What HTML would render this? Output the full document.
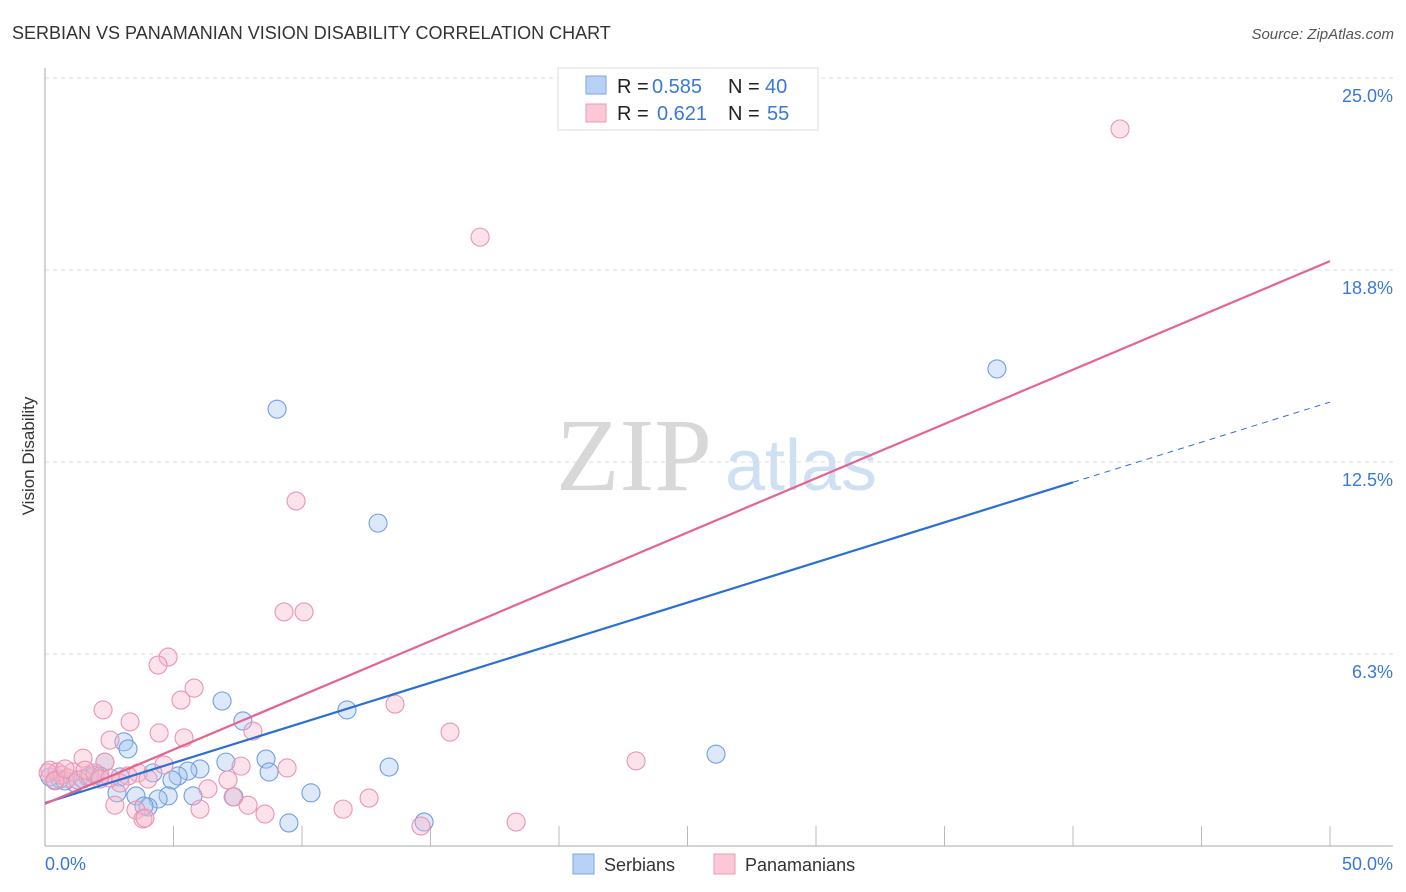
<!DOCTYPE html>
<html><head><meta charset="utf-8"><style>
body{margin:0;background:#fff;font-family:"Liberation Sans",sans-serif;}
svg{display:block}
</style></head><body>
<svg id="c" width="1406" height="892">
<text x="12" y="39" font-size="18" fill="#333">SERBIAN VS PANAMANIAN VISION DISABILITY CORRELATION CHART</text>
<text x="1394" y="39" font-size="15" fill="#555" font-style="italic" text-anchor="end">Source: ZipAtlas.com</text>
<text x="34" y="456" font-size="17" fill="#333" transform="rotate(-90 34 456)" text-anchor="middle">Vision Disability</text>
<g>
<text x="634" y="490" font-size="104" font-family="Liberation Serif,serif" fill="#d8d8d8" text-anchor="middle">ZIP</text>
<text x="801" y="490" font-size="72" fill="#cfe0f5" text-anchor="middle">atlas</text>
</g>
<g id="grid"></g><g id="axes"></g><g id="pts"></g><g id="lines"></g>
<g>
<rect x="558" y="68" width="260" height="62" fill="#fff" stroke="#ddd"/>
<rect x="586" y="76" width="20" height="18" fill="#b8d2f5" stroke="#7aa6e6"/>
<rect x="586" y="104" width="20" height="18" fill="#fac8d6" stroke="#ec9ab3"/>
<text y="93" font-size="20"><tspan x="617" fill="#222">R = </tspan><tspan x="652" fill="#3a78d8">0.585</tspan><tspan x="728" fill="#222">N = </tspan><tspan x="765" fill="#3a78d8">40</tspan></text>
<text y="120" font-size="20"><tspan x="617" fill="#222">R = </tspan><tspan x="657" fill="#3a78d8">0.621</tspan><tspan x="728" fill="#222">N = </tspan><tspan x="767" fill="#3a78d8">55</tspan></text>
</g>
<g>
<rect x="573" y="854" width="21" height="20" fill="#b8d2f5" stroke="#7aa6e6"/>
<text x="604" y="871" font-size="18" fill="#333">Serbians</text>
<rect x="714" y="854" width="21" height="20" fill="#fac8d6" stroke="#ec9ab3"/>
<text x="745" y="871" font-size="18" fill="#333">Panamanians</text>
</g>
</svg>
<script>
const yTicks=[6.25,12.5,18.75,25];
const yTickLabels=["6.3%","12.5%","18.8%","25.0%"];
const xTickLabels=["0.0%","50.0%"];
const serbX=[9.03,12.96,37.04,6.89,7.70,11.75,26.11,3.07,3.23,2.33,7.04,8.60,8.72,13.39,6.03,5.56,5.18,4.20,4.94,2.92,10.35,5.76,4.79,3.54,4.40,2.80,4.01,3.85,7.35,9.49,14.75,0.58,1.17,1.67,0.19,0.39,0.78,1.95,1.48,2.14];
const serbY=[14.22,10.51,15.53,4.72,4.07,4.43,2.99,3.39,3.16,2.73,2.73,2.83,2.41,2.57,2.51,2.44,2.28,2.38,2.15,2.25,1.73,1.63,1.63,1.63,1.53,1.73,1.27,1.30,1.60,0.75,0.78,2.18,2.05,2.25,2.25,2.15,2.12,2.31,2.18,2.28];
const panX=[41.83,16.93,9.77,9.30,10.08,4.79,4.40,5.80,5.29,2.26,3.31,4.44,2.53,5.41,8.09,13.62,15.76,23.00,1.48,2.33,7.63,9.42,7.12,6.34,7.32,4.63,3.62,3.23,4.01,2.92,2.72,3.54,3.81,7.90,8.56,6.03,11.60,12.61,14.63,18.33,0.19,0.47,0.66,0.89,1.09,1.28,1.75,1.95,2.14,0.12,2.53,0.39,0.78,1.56,3.89];
const panY=[23.34,19.82,11.23,7.62,7.62,6.15,5.89,5.14,4.75,4.43,4.04,3.68,3.45,3.52,3.74,4.62,3.71,2.77,2.86,2.73,2.60,2.54,2.15,1.86,1.60,2.64,2.38,2.28,2.18,2.05,1.33,1.17,0.88,1.33,1.04,1.20,1.20,1.56,0.65,0.78,2.47,2.41,2.31,2.21,2.41,2.15,2.28,2.38,2.18,2.38,2.21,2.12,2.51,2.47,0.91];
const serbLine=[1.40,14.45], serbSolidEnd=40;
const panLine=[1.37,19.04];
const X0=45,X1=1330,Y0=846;
const sx=v=>X0+(X1-X0)*v/50;
const sy=v=>Y0-v*192/6.25;
const NS="http://www.w3.org/2000/svg";
function mk(tag,attrs,parent){const e=document.createElementNS(NS,tag);for(const k in attrs)e.setAttribute(k,attrs[k]);document.getElementById(parent).appendChild(e);return e;}
yTicks.forEach((t,i)=>{
 const g=mk('line',{x1:45,x2:1393,y1:sy(t),y2:sy(t),stroke:'#ddd','stroke-dasharray':'4,4'},'grid');
 
 
 const l=mk('text',{x:1393,y:sy(t)+24,'font-size':18,fill:'#3a78d8','text-anchor':'end'},'grid');
 l.textContent=yTickLabels[i];
 
 
});
let a=mk('line',{x1:45,x2:45,y1:68,y2:846,stroke:'#aaa'},'axes');


a=mk('line',{x1:45,x2:1393,y1:846,y2:846,stroke:'#aaa'},'axes');


for(let i=1;i<=10;i++){const t=mk('line',{x1:sx(i*5),x2:sx(i*5),y1:826,y2:846,stroke:'#bbb'},'axes');
 
 }
[[0,'start',45],[50,'end',1393]].forEach((d,i)=>{const t=mk('text',{x:d[2],y:870,'font-size':18,fill:'#3a78d8','text-anchor':d[1]},'axes');t.textContent=xTickLabels[i];
 
 });
serbX.forEach((x,i)=>{const c=mk('circle',{cx:sx(x),cy:sy(serbY[i]),r:9,fill:'rgba(165,196,238,0.38)',stroke:'#6f9fe2','stroke-width':1.1},'pts');
 
 });
panX.forEach((x,i)=>{const c=mk('circle',{cx:sx(x),cy:sy(panY[i]),r:9,fill:'rgba(246,182,202,0.38)',stroke:'#eb94b0','stroke-width':1.1},'pts');
 
 });
const bl=v=>serbLine[0]+(serbLine[1]-serbLine[0])*v/50;
let l=mk('line',{x1:sx(0),y1:sy(bl(0)),x2:sx(serbSolidEnd),y2:sy(bl(serbSolidEnd)),stroke:'#2a6fd6','stroke-width':2.2},'lines');


l=mk('line',{x1:sx(serbSolidEnd),y1:sy(bl(serbSolidEnd)),x2:sx(50),y2:sy(bl(50)),stroke:'#2a6fd6','stroke-width':1,'stroke-dasharray':'6,5'},'lines');


l=mk('line',{x1:sx(0),y1:sy(panLine[0]),x2:sx(50),y2:sy(panLine[1]),stroke:'#e5648f','stroke-width':2.2},'lines');


</script>
</body></html>
